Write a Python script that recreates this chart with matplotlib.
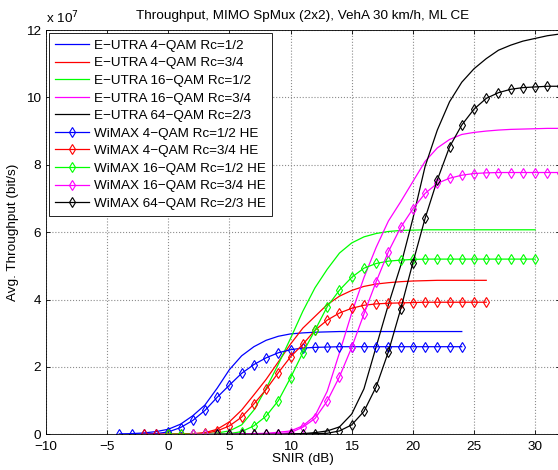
import matplotlib
matplotlib.use("Agg")
import matplotlib.pyplot as plt
import numpy as np

plt.rcParams["font.family"] = ["Liberation Sans", "DejaVu Sans"]

# SNIR grids (dB) per curve
snr_qpsk12 = np.arange(-4, 25)
snr_qpsk34 = np.arange(-2, 27)
snr_16qam12 = np.arange(0, 31)
snr_16qam34 = np.arange(2, 33)
snr_64qam23 = np.arange(4, 33)

# throughput, units of 1e7 bit/s
eutra_qpsk12 = [0.01, 0.02, 0.04, 0.08, 0.15, 0.3, 0.55, 0.87, 1.37, 1.92, 2.33, 2.6, 2.79, 2.91,
                2.98, 3.01, 3.03, 3.04] + [3.05] * 11
eutra_qpsk34 = [0, 0, 0.01, 0.01, 0.02, 0.05, 0.15, 0.37, 0.72, 1.17, 1.63, 2.15, 2.68, 3.15, 3.5,
                3.85, 4.1, 4.27, 4.39, 4.46, 4.5, 4.53, 4.55, 4.56] + [4.57] * 5
eutra_16qam12 = [0, 0, 0.01, 0.02, 0.04, 0.1, 0.28, 0.72, 1.36, 2.08, 2.85, 3.65, 4.35, 4.9, 5.38,
                 5.68, 5.86, 5.96, 6.02, 6.05, 6.06] + [6.07] * 10
eutra_16qam34 = [0, 0, 0, 0.01, 0.01, 0.02, 0.03, 0.06, 0.1, 0.25, 0.55, 1.28, 2.42, 3.6, 4.65,
                 5.55, 6.33, 6.9, 7.5, 8.1, 8.5, 8.75, 8.9, 8.96, 9.0, 9.03, 9.05, 9.06, 9.07,
                 9.08, 9.08]
eutra_64qam23 = [0, 0, 0, 0, 0, 0.01, 0.01, 0.02, 0.05, 0.1, 0.22, 0.6, 1.35, 2.6, 3.85, 5.0, 6.4,
                 7.95, 9.03, 9.87, 10.45, 10.85, 11.15, 11.4, 11.55, 11.67, 11.75, 11.83, 11.88]

wimax_qpsk12 = [0, 0, 0.01, 0.02, 0.07, 0.2, 0.41, 0.71, 1.1, 1.46, 1.81, 2.07, 2.27, 2.42, 2.51,
                2.56, 2.58, 2.59] + [2.6] * 11
wimax_qpsk34 = [0, 0, 0, 0.01, 0.01, 0.03, 0.1, 0.25, 0.51, 0.9, 1.33, 1.83, 2.3, 2.67, 3.09,
                3.39, 3.6, 3.74, 3.83, 3.87, 3.89, 3.9, 3.91] + [3.92] * 6
wimax_16qam12 = [0, 0, 0, 0, 0.01, 0.02, 0.08, 0.25, 0.54, 1.0, 1.68, 2.42, 3.09, 3.79, 4.28,
                 4.66, 4.93, 5.07, 5.14, 5.17, 5.19] + [5.2] * 10
wimax_16qam34 = [0, 0, 0, 0, 0, 0.01, 0.01, 0.02, 0.05, 0.21, 0.47, 0.99, 1.71, 2.58, 3.57, 4.53,
                 5.42, 6.14, 6.69, 7.15, 7.45, 7.6, 7.69, 7.74, 7.76] + [7.77] * 6
wimax_64qam23 = [0, 0, 0, 0, 0, 0, 0.01, 0.01, 0.02, 0.03, 0.1, 0.28, 0.68, 1.41, 2.45, 3.71,
                 5.09, 6.41, 7.55, 8.53, 9.18, 9.65, 9.97, 10.14, 10.24, 10.29, 10.31, 10.33,
                 10.33]

eutra = [
    ("E\u2212UTRA 4\u2212QAM Rc=1/2", snr_qpsk12, eutra_qpsk12, "#0000ff"),
    ("E\u2212UTRA 4\u2212QAM Rc=3/4", snr_qpsk34, eutra_qpsk34, "#ff0000"),
    ("E\u2212UTRA 16\u2212QAM Rc=1/2", snr_16qam12, eutra_16qam12, "#00ff00"),
    ("E\u2212UTRA 16\u2212QAM Rc=3/4", snr_16qam34, eutra_16qam34, "#ff00ff"),
    ("E\u2212UTRA 64\u2212QAM Rc=2/3", snr_64qam23, eutra_64qam23, "#000000"),
]
wimax = [
    ("WiMAX 4\u2212QAM Rc=1/2 HE", snr_qpsk12, wimax_qpsk12, "#0000ff"),
    ("WiMAX 4\u2212QAM Rc=3/4 HE", snr_qpsk34, wimax_qpsk34, "#ff0000"),
    ("WiMAX 16\u2212QAM Rc=1/2 HE", snr_16qam12, wimax_16qam12, "#00ff00"),
    ("WiMAX 16\u2212QAM Rc=3/4 HE", snr_16qam34, wimax_16qam34, "#ff00ff"),
    ("WiMAX 64\u2212QAM Rc=2/3 HE", snr_64qam23, wimax_64qam23, "#000000"),
]

fs = 9.7
fig = plt.figure(figsize=(5.58, 4.70), dpi=100)
ax = fig.add_axes([46 / 558, 35.7 / 470, 513.6 / 558, 404.3 / 470])

for label, x, y, c in eutra:
    ax.plot(x, y, color=c, lw=0.9, label=label)
for label, x, y, c in wimax:
    ax.plot(x, y, color=c, lw=0.9, marker="d", ms=5, mfc="none", mew=0.8, label=label)

ax.set_xlim(-10, 32)
ax.set_ylim(0, 12)
ax.set_xticks(np.arange(-10, 31, 5))
ax.set_yticks(np.arange(0, 13, 2))
ax.set_xticklabels([str(v).replace("-", "\u2212") for v in range(-10, 31, 5)])
ax.tick_params(direction="in", top=True, right=True, length=3, labelsize=fs, width=0.6)
ax.tick_params(axis="x", pad=5)
ax.grid(True, ls=":", color="0.55", lw=0.8)
for s in ax.spines.values():
    s.set_linewidth(0.6)

ax.set_title("Throughput, MIMO SpMux (2x2), VehA 30 km/h, ML CE", fontsize=fs, pad=8)
ax.set_xlabel("SNIR (dB)", fontsize=fs, labelpad=0)
ax.set_ylabel("Avg. Throughput (bit/s)", fontsize=fs, labelpad=5)
ax.text(0.0, 1.008, r"x 10$^{7}$", transform=ax.transAxes, fontsize=fs, ha="left", va="bottom")

leg = ax.legend(loc="upper left", fontsize=fs, handlelength=2.5, labelspacing=0.38,
                borderaxespad=0.25, fancybox=False, framealpha=1, edgecolor="black",
                handletextpad=0.4, borderpad=0.45)
leg.get_frame().set_linewidth(0.6)

fig.savefig("out.png", dpi=100)
